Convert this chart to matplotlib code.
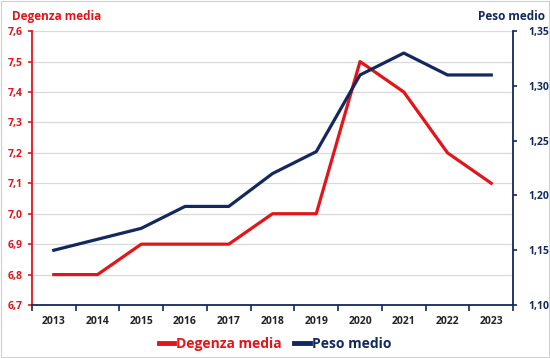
import matplotlib

matplotlib.use("Agg")
import matplotlib.pyplot as plt
from matplotlib.lines import Line2D
from matplotlib.patches import Rectangle

years = ["2013", "2014", "2015", "2016", "2017", "2018",
         "2019", "2020", "2021", "2022", "2023"]
degenza = [6.8, 6.8, 6.9, 6.9, 6.9, 7.0, 7.0, 7.5, 7.4, 7.2, 7.1]
peso = [1.15, 1.16, 1.17, 1.19, 1.19, 1.22, 1.24, 1.31, 1.33, 1.31, 1.31]
left_ticks = [6.7, 6.8, 6.9, 7.0, 7.1, 7.2, 7.3, 7.4, 7.5, 7.6]
right_ticks = [1.10, 1.15, 1.20, 1.25, 1.30, 1.35]

RED = "#E3151B"
NAVY = "#13285C"
plt.rcParams["font.family"] = ["Open Sans", "DejaVu Sans"]
plt.rcParams["font.weight"] = "bold"

fig = plt.figure(figsize=(5.5, 3.58), dpi=100)
ax = fig.add_axes([0.058, 0.148, 0.875, 0.765])
ax2 = ax.twinx()

x = range(len(years))
ax.plot(x, degenza, color=RED, lw=2.3, zorder=3)
ax2.plot(x, peso, color=NAVY, lw=2.3, zorder=3)

ax.set_xlim(-0.5, len(years) - 0.5)
ax.set_ylim(6.7, 7.6)
ax2.set_ylim(1.10, 1.35)

ax.set_yticks(left_ticks)
ax.set_yticklabels([f"{v:.1f}".replace(".", ",") for v in left_ticks])
ax2.set_yticks(right_ticks)
ax2.set_yticklabels([f"{v:.2f}".replace(".", ",") for v in right_ticks])
ax.grid(axis="y", color="#d9d9d9", lw=0.9)
ax.set_axisbelow(True)

# category ticks between years, labels centred on years
ax.set_xticks([i - 0.5 for i in range(len(years) + 1)])
ax.set_xticklabels([])
ax.set_xticks(list(x), minor=True)
ax.set_xticklabels(years, minor=True, fontsize=7.5, color="#222222")
ax.tick_params(axis="x", which="major", length=4, color=NAVY, width=1.2)
ax.tick_params(axis="x", which="minor", length=0, pad=8)

ax.tick_params(axis="y", colors=RED, labelsize=7.5, length=3, width=1.2)
ax2.tick_params(axis="y", colors=NAVY, labelsize=7.5, length=3, width=1.2, pad=8)

for s in ["top", "right"]:
    ax.spines[s].set_visible(False)
for s in ["top", "left", "bottom"]:
    ax2.spines[s].set_visible(False)
ax.spines["left"].set_color(RED)
ax.spines["left"].set_linewidth(1.3)
ax.spines["bottom"].set_color(NAVY)
ax.spines["bottom"].set_linewidth(1.3)
ax2.spines["right"].set_color(NAVY)
ax2.spines["right"].set_linewidth(1.3)

fig.text(0.022, 0.955, "Degenza media", color=RED, fontsize=8.5,
         fontweight="bold", ha="left", va="center")
fig.text(0.99, 0.955, "Peso medio", color=NAVY, fontsize=8.5,
         fontweight="bold", ha="right", va="center")

handles = [Line2D([], [], color=RED, lw=3.5), Line2D([], [], color=NAVY, lw=3.5)]
leg = fig.legend(handles, ["Degenza media", "Peso medio"], loc="center",
                 bbox_to_anchor=(0.5, 0.04), ncol=2, frameon=False,
                 fontsize=10, handlelength=1.1, handletextpad=0.15,
                 columnspacing=0.9)
for t, c in zip(leg.get_texts(), [RED, NAVY]):
    t.set_color(c)
    t.set_fontweight("bold")

fig.patches.append(Rectangle((0.002, 0.003), 0.996, 0.994, transform=fig.transFigure,
                             fill=False, edgecolor="#d0d0d0", lw=0.8))

fig.savefig("out.png", dpi=100)
